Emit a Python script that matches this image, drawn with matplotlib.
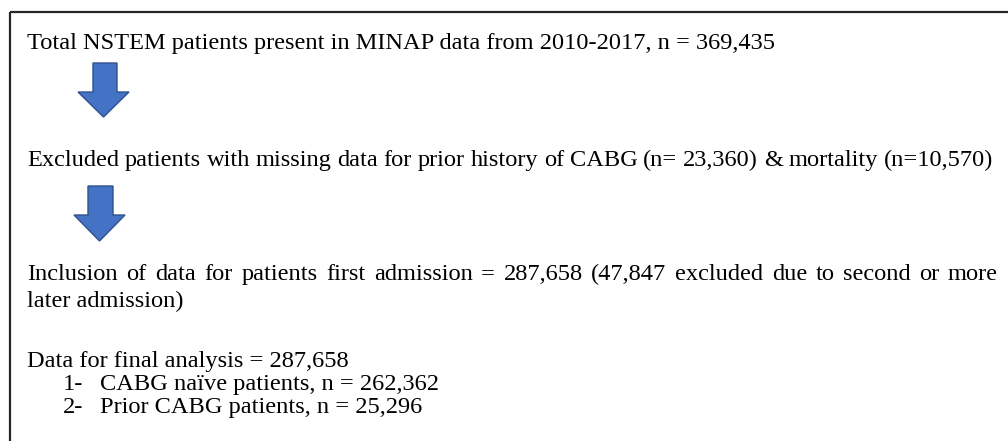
import matplotlib
matplotlib.use("Agg")
import matplotlib.pyplot as plt
from matplotlib.patches import Polygon

# text of the flow chart, top to bottom (baseline y in pixels)
lines = [
    "Total NSTEM patients present in MINAP data from 2010-2017, n = 369,435",
    "Excluded patients with missing data for prior history of CABG (n= 23,360) & mortality (n=10,570)",
    "Inclusion of data for patients first admission = 287,658 (47,847 excluded due to second or more",
    "later admission)",
    "Data for final analysis = 287,658",
]
line_y = [49, 166, 280, 307, 367]
# right edge for justified lines, None = left aligned
line_right = [None, 993, 998, None, None]

items_num = ["1-", "2-"]
items_txt = ["CABG na\u00efve patients, n = 262,362", "Prior CABG patients, n = 25,296"]
items_y = [390, 413]

# arrows: (shaft left, shaft right, top, head base, head left, head right, tip)
arrows = [(93, 117, 63, 92, 78, 129, 117),
          (88, 113, 186, 215, 74, 125, 241)]

fig = plt.figure(figsize=(10.08, 4.41), dpi=100)
ax = fig.add_axes([0, 0, 1, 1])
ax.set_xlim(0, 1008)
ax.set_ylim(441, 0)
ax.axis("off")

# outer box, cut off at the right and bottom
ax.plot([10, 10], [441, 12], color="#262626", lw=1.6, solid_capstyle="butt")
ax.plot([10, 1008], [12, 12], color="#262626", lw=1.6, solid_capstyle="butt")

font = dict(family="Liberation Serif", fontsize=17.6, color="black", va="baseline")
fig.canvas.draw()
renderer = fig.canvas.get_renderer()


def justify(text, x0, x1, y):
    words = text.split(" ")
    objs = [ax.text(x0, y, w, **font) for w in words]
    widths = [o.get_window_extent(renderer).width for o in objs]
    gap = (x1 - x0 - sum(widths)) / (len(words) - 1)
    x = x0
    for o, w in zip(objs, widths):
        o.set_x(x)
        x += w + gap


for t, y, r in zip(lines, line_y, line_right):
    if r is None:
        ax.text(27, y, t, **font)
    else:
        justify(t, 27, r, y)

for n, t, y in zip(items_num, items_txt, items_y):
    ax.text(63, y, n, **font)
    ax.text(100, y, t, **font)

for sl, sr, top, hb, hl, hr, tip in arrows:
    cx = (hl + hr) / 2
    pts = [(sl, top), (sr, top), (sr, hb), (hr, hb), (cx, tip), (hl, hb), (sl, hb)]
    ax.add_patch(Polygon(pts, closed=True, facecolor="#4472C4", edgecolor="#2F528F", lw=1))

fig.savefig("out.png", dpi=100)
